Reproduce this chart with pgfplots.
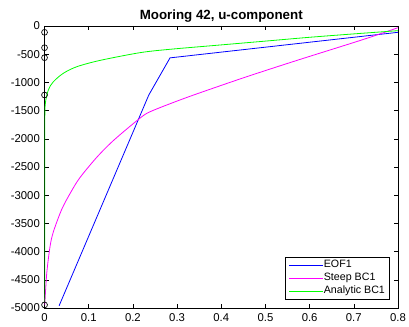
\documentclass[border=0pt]{standalone}
\usepackage{fontspec}
\setmainfont{Liberation Sans}
\usepackage{pgfplots}
\pgfplotsset{compat=1.18}
\definecolor{mblue}{rgb}{0,0,1}
\definecolor{mmag}{rgb}{1,0,1}
\definecolor{mgreen}{rgb}{0,1,0}
\begin{document}
\begin{tikzpicture}
\begin{axis}[
  at={(0,0)}, anchor=south west,
  scale only axis,
  width=265.1pt, height=211.5pt,
  xmin=0, xmax=0.8, ymin=-5000, ymax=0,
  xtick={0,0.1,...,0.8},
  ytick={-5000,-4500,...,0},
  /pgf/number format/assume math mode=true,
  /pgf/number format/1000 sep={},
  tick align=inside,
  major tick length=3pt,
  tick style={black, line width=0.4pt},
  axis line style={black, line width=0.5pt},
  ticklabel style={font=\fontsize{8.5}{10}\selectfont},
  xticklabel style={yshift=-0.5pt},
  every axis title shift=0pt,
  title={\textbf{Mooring 42, u-component}},
  title style={font=\fontsize{10}{12}\selectfont, anchor=base, at={(0.5,1)}, yshift=4.5pt},
  legend style={at={(1,0)}, anchor=south east, xshift=-6pt, yshift=6.5pt,
     draw=black, line width=0.4pt, font=\fontsize{8}{9}\selectfont,
     inner xsep=3pt, inner ysep=1pt, row sep=0pt,
     nodes={inner xsep=0.6pt, inner ysep=1.3pt}, cells={anchor=west}},
  legend image code/.code={\draw[#1, line width=0.5pt] (0pt,0pt) -- (25pt,0pt);},
]
\addplot[mblue, line width=0.6pt] coordinates {
 (0.033,-4960) (0.236,-1223) (0.284,-565) (0.8,-112)
};
\addlegendentry{EOF1}
\addplot[mmag, line width=0.6pt, smooth, tension=0.5] coordinates {
 (0.0005,-4950) (0.005,-4385) (0.0124,-3913) (0.02,-3650) (0.039,-3250)
 (0.06,-2940) (0.08,-2690) (0.118,-2330) (0.156,-2030) (0.212,-1660)
 (0.239,-1520) (0.314,-1290) (0.39,-1080) (0.465,-880) (0.574,-603)
 (0.721,-240) (0.8,-30)
};
\addlegendentry{Steep BC1}
\addplot[mgreen, line width=0.6pt, smooth, tension=0.5] coordinates {
 (0.0003,-4900) (0.0004,-3000) (0.0006,-1900) (0.0015,-1400) (0.0086,-1135)
 (0.02,-988) (0.0425,-839) (0.073,-722) (0.1256,-610) (0.216,-473)
 (0.284,-413) (0.4,-335) (0.51,-261) (0.6,-200) (0.7,-140) (0.8,-83)
};
\addlegendentry{Analytic BC1}
\addplot[black, only marks, mark=o, mark size=2.2pt, mark options={line width=0.5pt}, forget plot] coordinates {
 (0,-112) (0,-385) (0,-562) (0,-1223) (0,-4945)
};
\end{axis}
\pgfresetboundingbox
\path (-33.4pt,-14.25pt) rectangle (273.35pt,231pt);
\end{tikzpicture}
\end{document}
